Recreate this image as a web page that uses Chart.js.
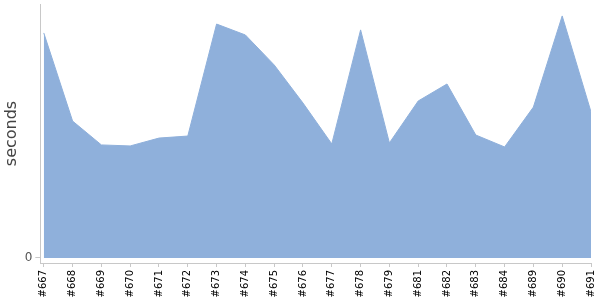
<!DOCTYPE html>
<html>
<head>
<meta charset="utf-8">
<script src="https://cdn.jsdelivr.net/npm/chart.js@4/dist/chart.umd.min.js"></script>
<style>
    html, body { margin: 0; padding: 0; background: #fff; }
    #wrapper { width: 600px; height: 300px; }
</style>
</head>
<body>
<div id="wrapper"><canvas id="buildChart"></canvas></div>
<script>
const buildLabels = ["#667", "#668", "#669", "#670", "#671", "#672", "#673", "#674", "#675", "#676",
    "#677", "#678", "#679", "#681", "#682", "#683", "#684", "#689", "#690", "#691"];
const buildSeconds = [88.6, 53.9, 44.5, 44.1, 47.2, 48.0, 92.1, 87.8, 76.0, 61.0,
    44.9, 89.8, 45.3, 61.8, 68.5, 48.4, 43.7, 59.4, 95.3, 57.5];
const yTickValues = [0];

const axisColor = "#c8c8c8";

const points = [];
for (let i = 0; i < buildLabels.length; i++) {
    points.push({ x: i, y: buildSeconds[i] });
}

const data = {
    datasets: [{
        label: "seconds",
        data: points,
        fill: "origin",
        backgroundColor: "rgb(143, 176, 219)",
        borderColor: "rgb(143, 176, 219)",
        borderWidth: 1,
        pointRadius: 0,
        tension: 0
    }]
};

const config = {
    type: "line",
    data: data,
    options: {
        responsive: true,
        maintainAspectRatio: false,
        animation: false,
        layout: { padding: { top: 4, right: 0, left: 0, bottom: 0 } },
        plugins: {
            legend: { display: false },
            tooltip: { enabled: false }
        },
        scales: {
            x: {
                type: "linear",
                min: -0.12,
                max: buildLabels.length - 1,
                afterBuildTicks: (scale) => {
                    scale.ticks = buildLabels.map((l, i) => ({ value: i }));
                },
                afterFit: (scale) => {
                    // keep the plot as wide and low as in the original
                    scale.height = 37;
                    scale.paddingLeft = 0;
                    scale.paddingRight = 9;
                },
                grid: { drawOnChartArea: false, color: axisColor, tickLength: 4 },
                border: { color: axisColor },
                ticks: {
                    autoSkip: false,
                    minRotation: 90,
                    maxRotation: 90,
                    padding: 3,
                    color: "#000",
                    font: { family: "DejaVu Sans", size: 10 },
                    callback: (value) => buildLabels[value]
                }
            },
            y: {
                min: -2,
                max: 100,
                afterBuildTicks: (scale) => {
                    scale.ticks = yTickValues.map(v => ({ value: v }));
                },
                afterFit: (scale) => {
                    scale.paddingTop = 0;
                    scale.paddingBottom = 0;
                },
                grid: { drawOnChartArea: false, color: axisColor, tickLength: 5 },
                border: { color: axisColor },
                ticks: {
                    padding: 3,
                    color: "#555",
                    font: { family: "DejaVu Sans", size: 12 }
                },
                title: {
                    display: true,
                    text: "seconds",
                    color: "#444",
                    padding: { top: 2.5, bottom: 0 },
                    font: { family: "DejaVu Sans", size: 16 }
                }
            }
        }
    }
};

const buildChart = new Chart(document.getElementById("buildChart"), config);
</script>
</body>
</html>
